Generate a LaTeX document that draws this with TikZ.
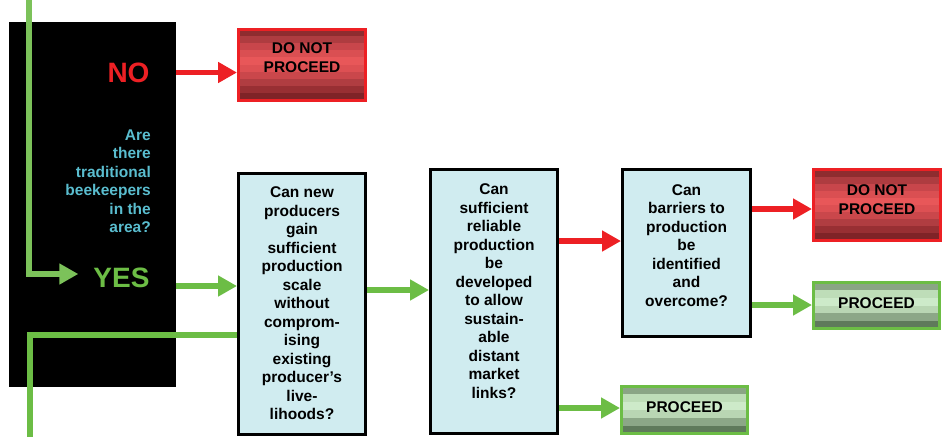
\documentclass[tikz,border=0pt]{standalone}
\usepackage{fontspec}
\setmainfont{Liberation Sans}
\usetikzlibrary{arrows.meta,calc}
\definecolor{gr}{HTML}{6CBD45}
\definecolor{grf}{HTML}{7CC25A}
\definecolor{rd}{HTML}{ED2024}
\definecolor{qf}{HTML}{D0ECF0}
\definecolor{cy}{HTML}{5ABDCF}
\definecolor{r1}{HTML}{8F2C2F}
\definecolor{r2}{HTML}{AE3C40}
\definecolor{r3}{HTML}{C8464B}
\definecolor{r4}{HTML}{DA4F52}
\definecolor{r5}{HTML}{E85759}
\definecolor{r6}{HTML}{DD5053}
\definecolor{r7}{HTML}{CA474B}
\definecolor{r8}{HTML}{B03D41}
\definecolor{r9}{HTML}{982F33}
\definecolor{r10}{HTML}{7F2327}
\definecolor{g1}{HTML}{8AA585}
\definecolor{g2}{HTML}{BEDDB8}
\definecolor{g3}{HTML}{CDEAC9}
\definecolor{g4}{HTML}{B9D6B3}
\definecolor{g5}{HTML}{8CA787}
\definecolor{g6}{HTML}{5F7A5B}
\tikzset{
  redbox/.style={draw=rd, line width=3pt, minimum width=127pt, minimum height=71pt, inner sep=0pt,
    path picture={\foreach \c [count=\i from 0] in {r1,r2,r3,r4,r5,r6,r7,r8,r9,r10}{
      \fill[\c] ($(path picture bounding box.north west)!{\i/10}!(path picture bounding box.south west)$)
        rectangle ($(path picture bounding box.north east)!{(\i+1)/10}!(path picture bounding box.south east)$);}}},
  greenbox/.style={draw=gr, line width=3pt, minimum width=126pt, minimum height=46pt, inner sep=0pt,
    path picture={\foreach \c [count=\i from 0] in {g1,g2,g3,g4,g5,g6}{
      \fill[\c] ($(path picture bounding box.north west)!{\i/6}!(path picture bounding box.south west)$)
        rectangle ($(path picture bounding box.north east)!{(\i+1)/6}!(path picture bounding box.south east)$);}}},
  qbox/.style={draw=black, line width=3pt, fill=qf, minimum width=127pt, inner sep=0pt},
  qtext/.style={font=\bfseries\fontsize{15.5}{18.5}\selectfont, align=center, inner sep=0pt},
  btext/.style={font=\bfseries\fontsize{15.5}{19}\selectfont, align=center, inner sep=0pt},
  bigtext/.style={font=\bfseries\fontsize{28}{30}\selectfont, inner sep=0pt},
  rarrow/.style={draw=rd, line width=5.5pt, -{Triangle[length=19pt,width=20pt]}},
  garrow/.style={draw=gr, line width=5.5pt, -{Triangle[length=19pt,width=20pt]}},
  gline/.style={draw=gr, line width=5.5pt},
}
\begin{document}
\begin{tikzpicture}[x=1pt,y=-1pt]
\useasboundingbox (0,0) rectangle (949,437);
% black panel
\node[fill=black, minimum width=167pt, minimum height=365pt, inner sep=0pt] (blk) at (92.5,204.5) {};
\node[bigtext, text=rd] (no) at (128.5,72.5) {NO};
\node[bigtext, text=gr] (yes) at (121.5,278) {YES};
\node[font=\bfseries\fontsize{15.5}{18.5}\selectfont, text=cy, align=right, inner sep=0pt, anchor=east] (q0) at (151,181) {Are\\there\\traditional\\beekeepers\\in the\\area?};
% boxes
\node[redbox] (dnp1) at (302,64.5) {};
\node[btext] at (302,57.8) {DO NOT\\PROCEED};
\node[qbox, minimum height=261pt] (b1) at (302,304) {};
\node[qtext] at (302,303.5) {Can new\\producers\\gain\\sufficient\\production\\scale\\without\\comprom-\\ising\\existing\\producer’s\\live-\\lihoods?};
\node[qbox, minimum height=264pt] (b2) at (494,301.5) {};
\node[qtext] at (494,291) {Can\\sufficient\\reliable\\production\\be\\developed\\to allow\\sustain-\\able\\distant\\market\\links?};
\node[qbox, minimum width=128pt, minimum height=167pt] (b3) at (686.5,253) {};
\node[qtext] at (686.5,245.5) {Can\\barriers to\\production\\be\\identified\\and\\overcome?};
\node[redbox] (dnp2) at (877,205) {};
\node[btext] at (877,199.7) {DO NOT\\PROCEED};
\node[greenbox, minimum height=47pt] (p1) at (684.5,410) {};
\node[btext] at (684.5,406.7) {PROCEED};
\node[greenbox] (p2) at (876.5,305.5) {};
\node[btext] at (876.5,302.7) {PROCEED};
% connectors
\coordinate (gtop) at (29,0);
\coordinate (gbot) at (30,437);
\draw[draw=grf, line width=6pt, -{Triangle[length=19pt,width=20pt]}] (gtop) |- ([yshift=4pt,xshift=-15pt]yes.west);
\draw[gline] (b1.west |- 0,335) -| (gbot);
\draw[rarrow] (blk.east |- no) -- (dnp1.west |- no);
\draw[garrow] (blk.east |- 0,286) -- (b1.west |- 0,286);
\draw[garrow] (b1.east |- 0,290) -- (b2.west |- 0,290);
\draw[rarrow] (b2.east |- 0,241) -- (b3.west |- 0,241);
\draw[garrow] (b2.east |- 0,408) -- (p1.west |- 0,408);
\draw[rarrow] (b3.east |- 0,209) -- (dnp2.west |- 0,209);
\draw[garrow] (b3.east |- 0,305) -- (p2.west |- 0,305);
\end{tikzpicture}
\end{document}
